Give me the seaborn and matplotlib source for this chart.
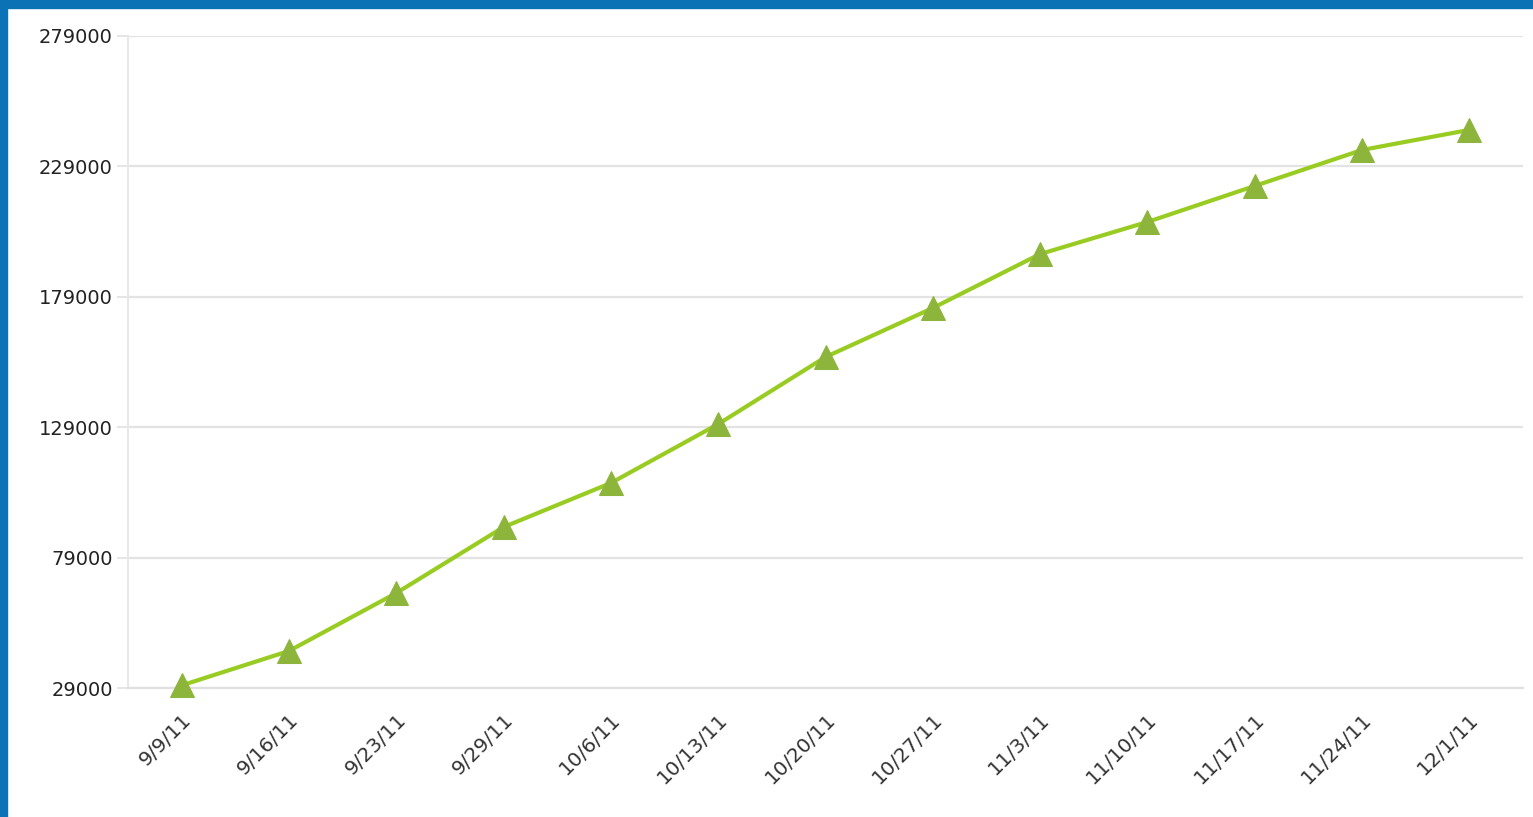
import numpy as np
import pandas as pd
import seaborn as sns
import matplotlib.pyplot as plt
from matplotlib.patches import Rectangle

sns.set_theme(style='white')
plt.rcParams['font.family'] = ['DejaVu Sans']

dates = ['9/9/11', '9/16/11', '9/23/11', '9/29/11', '10/6/11', '10/13/11', '10/20/11',
         '10/27/11', '11/3/11', '11/10/11', '11/17/11', '11/24/11', '12/1/11']
values = [30000, 43200, 65400, 90700, 107600, 130200, 155900,
          174700, 195400, 207700, 221500, 235300, 243000]
yticks = [29000, 79000, 129000, 179000, 229000, 279000]

df = pd.DataFrame({'date': dates, 'value': values})
df['pos'] = np.arange(len(dates))

W, H = 1533, 817
fig = plt.figure(figsize=(W / 100, H / 100), dpi=100)
fig.patch.set_facecolor('white')

# blue frame on top and left
fig.patches.append(Rectangle((0, 1 - 8 / H), 1, 8 / H, transform=fig.transFigure,
                             color='#0b72b5', zorder=0))
fig.patches.append(Rectangle((0, 0), 7 / W, 1, transform=fig.transFigure,
                             color='#0b72b5', zorder=0))

ax = fig.add_axes([128 / W, 1 - 688 / H, (1523 - 128) / W, (688 - 36) / H])

sns.lineplot(data=df, x='pos', y='value', ax=ax, color='#99cc22', linewidth=3,
             marker='^', markersize=17, markerfacecolor='#8db53c',
             markeredgecolor='#8db53c', zorder=5, clip_on=False)

ax.set_xlim(-0.5, len(dates) - 0.5)
ax.set_ylim(yticks[0], yticks[-1])
ax.set_yticks(yticks)
ax.set_yticklabels([str(v) for v in yticks], fontsize=14, color='#222222')
ax.set_xticks(df['pos'])
ax.set_xticklabels(dates, rotation=45, ha='right', rotation_mode='anchor',
                   fontsize=14.5, color='#333333')
ax.set_xticks(np.arange(-0.5, len(dates), 1), minor=True)

ax.tick_params(axis='x', which='major', length=0, pad=16)
ax.tick_params(axis='x', which='minor', length=7, width=1.2, color='#d8d8d8', direction='out')
ax.tick_params(axis='y', length=8, width=1.2, color='#e0e0e0', pad=3, left=True)

ax.grid(axis='y', color='#e3e3e3', linewidth=1.6)
ax.grid(axis='x', visible=False)
for s in ['top', 'right']:
    ax.spines[s].set_visible(False)
ax.spines['left'].set_color('#e8e8e8')
ax.spines['left'].set_linewidth(1.5)
ax.spines['bottom'].set_color('#e0e0e0')
ax.spines['bottom'].set_linewidth(1.6)
ax.set_xlabel('')
ax.set_ylabel('')

fig.savefig('out.png', dpi=100)
